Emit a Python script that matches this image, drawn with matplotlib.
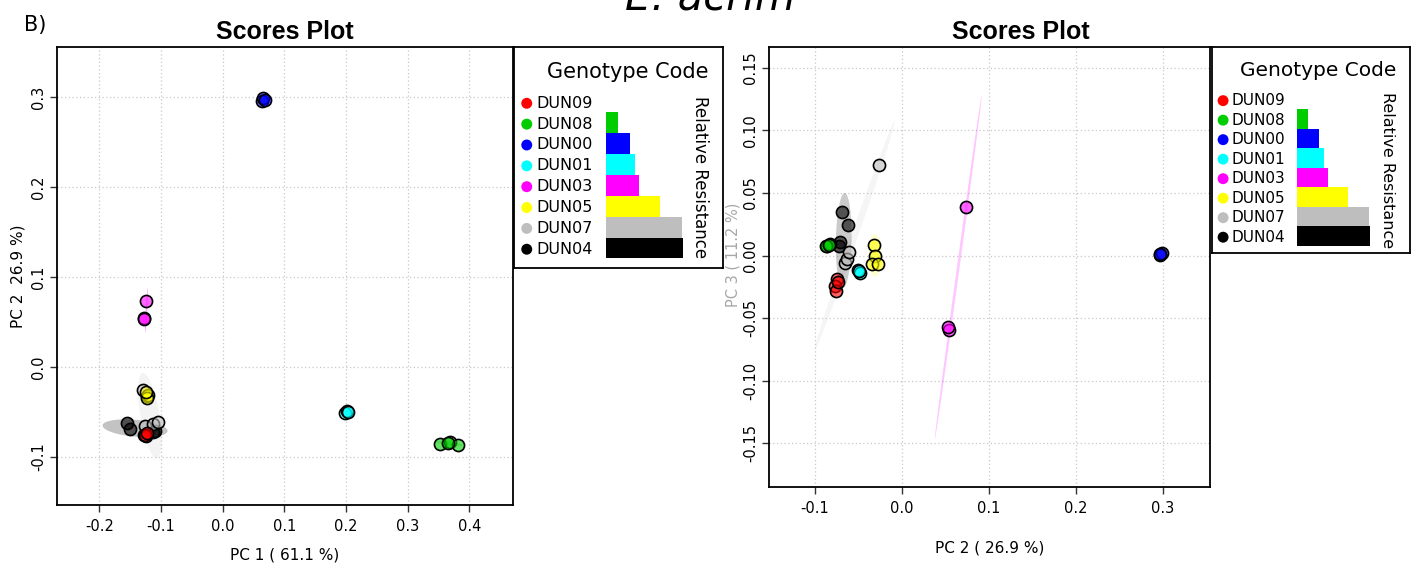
import numpy as np
import matplotlib.pyplot as plt
from matplotlib.colors import to_rgba

plt.rcParams['font.family'] = 'DejaVu Sans'
plt.rcParams['axes.unicode_minus'] = False

genotypes = ['DUN09', 'DUN08', 'DUN00', 'DUN01', 'DUN03', 'DUN05', 'DUN07', 'DUN04']
colors = ['#FF0000', '#00CD00', '#0000FF', '#00FFFF', '#FF00FF', '#FFFF00', '#BEBEBE', '#000000']
resistance = [0.0, 0.16, 0.31, 0.38, 0.43, 0.71, 0.99, 1.0]

pc1 = {
    'DUN09': [-0.128, -0.124, -0.126, -0.122],
    'DUN08': [0.352, 0.368, 0.381, 0.366],
    'DUN00': [0.063, 0.066, 0.068],
    'DUN01': [0.198, 0.201, 0.203],
    'DUN03': [-0.124, -0.127, -0.127],
    'DUN05': [-0.123, -0.121, -0.122, -0.124],
    'DUN07': [-0.129, -0.126, -0.113, -0.105],
    'DUN04': [-0.155, -0.150, -0.110, -0.113],
}
pc2 = {
    'DUN09': [-0.075, -0.077, -0.076, -0.0735],
    'DUN08': [-0.086, -0.083, -0.087, -0.084],
    'DUN00': [0.296, 0.2985, 0.297],
    'DUN01': [-0.0506, -0.0486, -0.050],
    'DUN03': [0.073, 0.054, 0.053],
    'DUN05': [-0.0325, -0.0315, -0.034, -0.028],
    'DUN07': [-0.026, -0.065, -0.063, -0.061],
    'DUN04': [-0.062, -0.069, -0.071, -0.072],
}
pc3 = {
    'DUN09': [-0.0186, -0.024, -0.028, -0.021],
    'DUN08': [0.008, 0.009, 0.008, 0.0085],
    'DUN00': [0.0008, 0.0024, 0.0015],
    'DUN01': [-0.0114, -0.0136, -0.012],
    'DUN03': [0.039, -0.0598, -0.057],
    'DUN05': [0.0088, 0.0, -0.0064, -0.0064],
    'DUN07': [0.0726, -0.0056, -0.0024, 0.0027],
    'DUN04': [0.0245, 0.035, 0.0106, 0.008],
}

# confidence ellipses: centre, major half-axis vector, minor half-axis vector
ellipses_left = [
    ('DUN04', (-0.142, -0.068), (0.0527, -0.003), (0.0, 0.0094), 0.35),
    ('DUN07', (-0.118, -0.054), (-0.0122, 0.0472), (0.0146, 0.004), 0.18),
    ('DUN03', (-0.1235, 0.063), (0.002, 0.025), (0.0012, 0.0), 0.3),
    ('DUN09', (-0.126, -0.076), (0.006, 0.0), (0.0, 0.004), 0.2),
    ('DUN05', (-0.122, -0.032), (0.003, 0.006), (0.003, 0.0), 0.25),
    ('DUN08', (0.367, -0.085), (0.022, -0.002), (0.0, 0.002), 0.25),
]
ellipses_right = [
    ('DUN07', (-0.0544, 0.016), (0.046, 0.0917), (0.0035, -0.001), 0.15),
    ('DUN03', (0.0646, -0.0096), (0.027, 0.1378), (0.0015, -0.0002), 0.22),
    ('DUN04', (-0.067, 0.012), (0.001, 0.038), (0.009, 0.0), 0.3),
    ('DUN05', (-0.031, 0.0), (0.0, 0.017), (0.007, 0.0), 0.2),
]

col = dict(zip(genotypes, colors))


def draw_ellipse(ax, center, major, minor, color, alpha):
    t = np.linspace(0, 2 * np.pi, 120)
    x = center[0] + major[0] * np.cos(t) + minor[0] * np.sin(t)
    y = center[1] + major[1] * np.cos(t) + minor[1] * np.sin(t)
    ax.fill(x, y, color=color, alpha=alpha, lw=0, zorder=1)


def scores_panel(ax, xs, ys, ells, xticks, yticks, xfmt, yfmt, xlim, ylim):
    for g, c, m, n, a in ells:
        draw_ellipse(ax, c, m, n, col[g] if g != 'DUN04' else '#555555', a)
    for g in genotypes[::-1]:
        ax.scatter(xs[g], ys[g], s=76, facecolor=to_rgba(col[g], 0.6),
                   edgecolor='black', lw=1.2, zorder=3)
    ax.set_xlim(*xlim)
    ax.set_ylim(*ylim)
    ax.set_xticks(xticks)
    ax.set_xticklabels([xfmt % v for v in xticks])
    ax.set_yticks(yticks)
    ax.set_yticklabels([yfmt % v for v in yticks], rotation=90, va='center')
    ax.grid(True, color='#c8c8c8', lw=0.9, linestyle=(0, (1, 2)))
    ax.set_axisbelow(True)
    ax.tick_params(length=5, width=1, labelsize=10.5, pad=5, color='#333333')
    ax.tick_params(axis='y', pad=3)
    for s in ax.spines.values():
        s.set_linewidth(1.3)


def legend_box(rect, ylim, dot_x, text_x, bar_x, title_x, title_y, rr_x, rr_y,
               fs_item, fs_title, fs_rr):
    lg = fig.add_axes(rect)
    lg.set_xlim(0, 1)
    lg.set_ylim(*ylim)
    lg.set_xticks([])
    lg.set_yticks([])
    for s in lg.spines.values():
        s.set_linewidth(1.3)
    rows = np.arange(len(genotypes))
    lg.scatter(np.full(len(rows), dot_x), rows, s=62, color=colors, lw=0)
    for r, g in zip(rows, genotypes):
        lg.text(text_x, r, g, fontsize=fs_item, va='center', ha='left')
    lg.barh(rows - 0.06, np.array(resistance) * 0.368, left=bar_x, height=1.0,
            color=colors, lw=0)
    lg.text(title_x, title_y, 'Genotype Code', fontsize=fs_title, ha='center', va='center')
    lg.text(rr_x, rr_y, 'Relative Resistance', fontsize=fs_rr, rotation=-90,
            ha='center', va='center')
    return lg


fig = plt.figure(figsize=(14.21, 5.65), dpi=100)

ax1 = fig.add_axes([57 / 1421, 1 - 505 / 565, 456 / 1421, 458 / 565])
scores_panel(ax1, pc1, pc2, ellipses_left,
             [-0.2, -0.1, 0.0, 0.1, 0.2, 0.3, 0.4], [-0.1, 0.0, 0.1, 0.2, 0.3],
             '%.1f', '%.1f', (-0.2686, 0.4708), (-0.1533, 0.3556))
ax1.set_xlabel('PC 1 ( 61.1 %)', fontsize=11, labelpad=10)
ax1.set_ylabel('PC 2  26.9 %)', fontsize=11, labelpad=4)

ax2 = fig.add_axes([769 / 1421, 1 - 487 / 565, 441 / 1421, 440 / 565])
scores_panel(ax2, pc2, pc3, ellipses_right,
             [-0.1, 0.0, 0.1, 0.2, 0.3], [-0.15, -0.10, -0.05, 0.0, 0.05, 0.10, 0.15],
             '%.1f', '%.2f', (-0.1529, 0.354), (-0.185, 0.1667))
ax2.set_xlabel('PC 2 ( 26.9 %)', fontsize=11, labelpad=18)
fig.text(733 / 1421, 1 - 255 / 565, 'PC 3 ( 11.2 %)', rotation=90, fontsize=10.5,
         ha='center', va='center', alpha=0.35)

legend_box([514 / 1421, 1 - 268 / 565, 209 / 1421, 221 / 565], (7.9, -2.7),
           0.061, 0.105, 0.439, 0.543, -1.5, 0.89, 3.53, 11.5, 15, 12)
legend_box([1212 / 1421, 1 - 253 / 565, 198 / 1421, 206 / 565], (7.81, -2.75),
           0.056, 0.098, 0.428, 0.534, -1.57, 0.887, 3.55, 11, 14.5, 11.5)

fig.text(285 / 1421, 1 - 32 / 565, 'Scores Plot', fontsize=18, fontweight='bold',
         family='Liberation Sans', ha='center', va='center')
fig.text(1021 / 1421, 1 - 32 / 565, 'Scores Plot', fontsize=18, fontweight='bold',
         family='Liberation Sans', ha='center', va='center')
fig.text(24 / 1421, 1 - 25 / 565, 'B)', fontsize=15, ha='left', va='center')
fig.text(0.5, 1 - 9 / 565, 'E. acrim', fontsize=30, style='italic',
         ha='center', va='baseline')

fig.savefig('out.png', dpi=100)
